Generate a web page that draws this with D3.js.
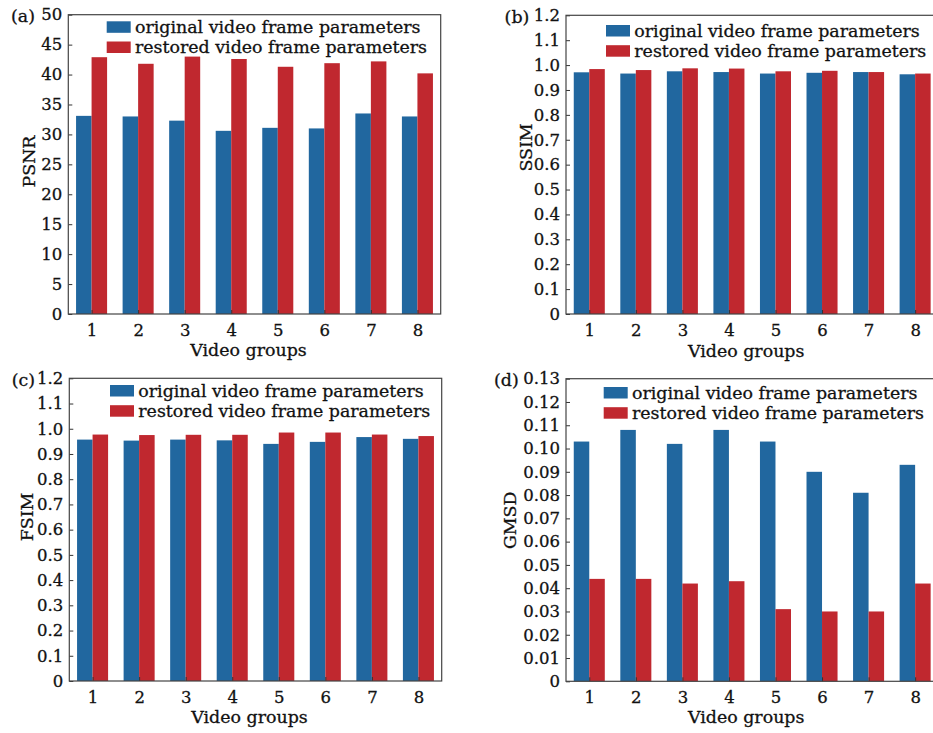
<!DOCTYPE html>
<html>
<head>
<meta charset="utf-8">
<script src="https://cdn.jsdelivr.net/npm/d3@7"></script>
<style>
  html, body { margin: 0; padding: 0; background: #fff; }
  svg { display: block; }
  text { font-family: "DejaVu Serif", serif; fill: #111; stroke: #111; stroke-width: 0.3px; }
</style>
</head>
<body>
<svg id="chart" width="933" height="733"></svg>
<script>
// ---------------- data ----------------
const groups = [1, 2, 3, 4, 5, 6, 7, 8];
const seriesNames = ["original video frame parameters", "restored video frame parameters"];

const psnrOriginal = [33.1, 33.0, 32.3, 30.6, 31.1, 31.0, 33.5, 33.0];
const psnrRestored = [42.9, 41.8, 43.0, 42.6, 41.3, 41.9, 42.2, 40.2];

const ssimOriginal = [0.971, 0.966, 0.975, 0.972, 0.966, 0.969, 0.972, 0.963];
const ssimRestored = [0.984, 0.980, 0.987, 0.986, 0.975, 0.977, 0.972, 0.966];

const fsimOriginal = [0.957, 0.953, 0.957, 0.954, 0.940, 0.948, 0.967, 0.960];
const fsimRestored = [0.977, 0.975, 0.976, 0.976, 0.985, 0.985, 0.977, 0.971];

const gmsdOriginal = [0.103, 0.108, 0.102, 0.108, 0.103, 0.090, 0.081, 0.093];
const gmsdRestored = [0.044, 0.044, 0.042, 0.043, 0.031, 0.030, 0.030, 0.042];

const psnrTicks = [0, 5, 10, 15, 20, 25, 30, 35, 40, 45, 50];
const unitTicks = [0, 0.1, 0.2, 0.3, 0.4, 0.5, 0.6, 0.7, 0.8, 0.9, 1.0, 1.1, 1.2];
const gmsdTicks = [0, 0.01, 0.02, 0.03, 0.04, 0.05, 0.06, 0.07, 0.08, 0.09, 0.10, 0.11, 0.12, 0.13];

const xTitle = "Video groups";
const colors = ["#21679f", "#c0282f"];

// ---------------- layout ----------------
const panels = [
  { tag: "(a)", ylabel: "PSNR", orig: psnrOriginal, rest: psnrRestored, ticks: psnrTicks,
    fmt: d => d3.format("d")(d),
    left: 68.3, top: 14.7, bottom: 314, tagX: 35, ylX: 35, ylY: 161.5, lgX: 106.7, lgY: 21.3, xtY: 356 },
  { tag: "(b)", ylabel: "SSIM", orig: ssimOriginal, rest: ssimRestored, ticks: unitTicks,
    fmt: d => d === 0 ? "0" : d3.format(".1f")(d),
    left: 566, top: 15.3, bottom: 314, tagX: 529.3, ylX: 531.7, ylY: 147.5, lgX: 606, lgY: 25, xtY: 356.7 },
  { tag: "(c)", ylabel: "FSIM", orig: fsimOriginal, rest: fsimRestored, ticks: unitTicks,
    fmt: d => d === 0 ? "0" : d3.format(".1f")(d),
    left: 69.3, top: 378.3, bottom: 681, tagX: 35, ylX: 33.3, ylY: 517, lgX: 110, lgY: 385, xtY: 723.3 },
  { tag: "(d)", ylabel: "GMSD", orig: gmsdOriginal, rest: gmsdRestored, ticks: gmsdTicks,
    fmt: d => d === 0 ? "0" : d3.format(".2f")(d),
    left: 566, top: 378.7, bottom: 681.3, tagX: 518.7, ylX: 516, ylY: 520.3, lgX: 603.7, lgY: 387, xtY: 723.3 }
];
const plotW = 372.4;

const svg = d3.select("#chart");
svg.append("rect").attr("width", 933).attr("height", 733).attr("fill", "#fff");

panels.forEach(p => {
  const g = svg.append("g");
  const x = d3.scaleLinear().domain([0.5, 8.5]).range([p.left, p.left + plotW]);
  const ymax = p.ticks[p.ticks.length - 1];
  const y = d3.scaleLinear().domain([0, ymax]).range([p.bottom, p.top]);
  const bw = 1 / 3;

  // bars
  const seriesData = [p.orig, p.rest];
  seriesData.forEach((vals, si) => {
    g.selectAll(null).data(groups).enter().append("rect")
      .attr("x", d => x(si === 0 ? d - bw : d))
      .attr("width", d => x(d + bw) - x(d))
      .attr("y", (d, i) => y(vals[i]))
      .attr("height", (d, i) => y(0) - y(vals[i]))
      .attr("fill", colors[si]);
  });

  // y axis
  const yAxis = d3.axisLeft(y).tickValues(p.ticks).tickFormat(p.fmt)
    .tickSizeInner(-4).tickSizeOuter(0).tickPadding(6);
  const ya = g.append("g").attr("transform", `translate(${p.left},0)`).call(yAxis);
  ya.select(".domain").remove();
  ya.selectAll("line").attr("stroke", "#333").attr("stroke-width", 1);
  ya.selectAll("text").attr("font-family", "DejaVu Serif").attr("font-size", 16.5).attr("fill", "#111");

  // x axis
  const xAxis = d3.axisBottom(x).tickValues(groups).tickFormat(d3.format("d"))
    .tickSizeInner(-4).tickSizeOuter(0).tickPadding(10);
  const xa = g.append("g").attr("transform", `translate(0,${p.bottom})`).call(xAxis);
  xa.select(".domain").remove();
  xa.selectAll("line").attr("stroke", "#333").attr("stroke-width", 1);
  xa.selectAll("text").attr("font-family", "DejaVu Serif").attr("font-size", 16.5).attr("fill", "#111");

  // frame (no right-side ticks)
  g.append("rect")
    .attr("x", p.left).attr("y", p.top)
    .attr("width", plotW).attr("height", p.bottom - p.top)
    .attr("fill", "none").attr("stroke", "#444").attr("stroke-width", 1.2);

  // panel tag
  g.append("text").attr("x", p.tagX).attr("y", p.top + 7.3)
    .attr("text-anchor", "end").attr("font-size", 17.4).text(p.tag);

  // y title
  g.append("text")
    .attr("transform", `translate(${p.ylX},${p.ylY}) rotate(-90)`)
    .attr("text-anchor", "middle").attr("font-size", 17.4).text(p.ylabel);

  // x title
  g.append("text").attr("x", p.left + plotW / 2 - 6).attr("y", p.xtY)
    .attr("text-anchor", "middle").attr("font-size", 17.4).text(xTitle);

  // legend
  seriesNames.forEach((name, si) => {
    const yy = p.lgY + si * 20.2;
    g.append("rect").attr("x", p.lgX).attr("y", yy).attr("width", 24).attr("height", 11.5)
      .attr("fill", colors[si]);
    g.append("text").attr("x", p.lgX + 28.3).attr("y", yy + 11.6)
      .attr("font-size", 17.4).text(name);
  });
});
</script>
</body>
</html>
